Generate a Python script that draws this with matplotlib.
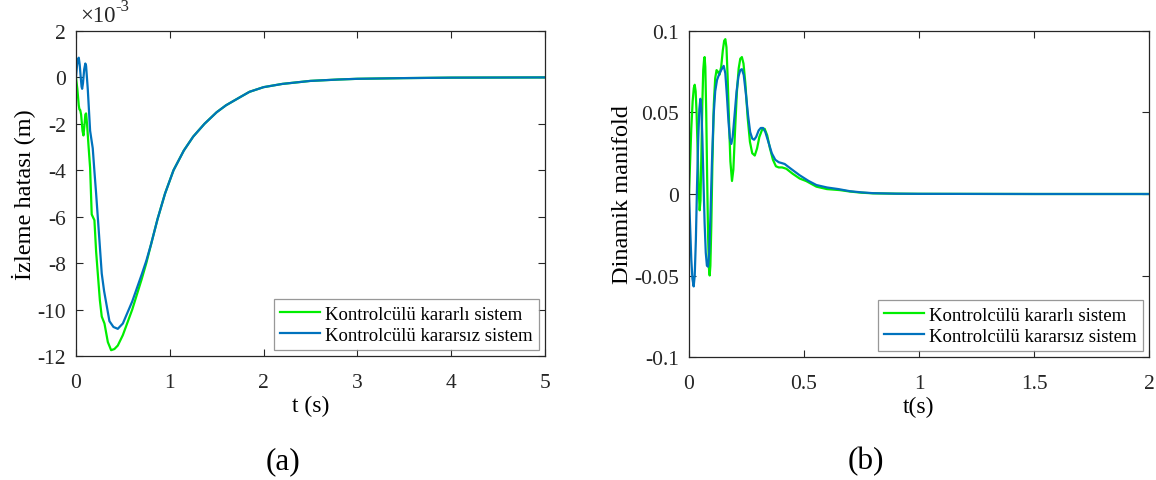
import matplotlib
matplotlib.use("Agg")
import matplotlib.pyplot as plt

plt.rcParams["font.family"] = ["Liberation Serif", "DejaVu Serif"]
plt.rcParams["axes.unicode_minus"] = False

# ---------------------------------------------------------------- data (a)
# tracking error, in units of 1e-3 m
t_a_green = [0.000, 0.015, 0.030, 0.037, 0.045, 0.055, 0.070, 0.080, 0.090, 0.100,
             0.108, 0.118, 0.135, 0.151, 0.168, 0.185, 0.197, 0.215, 0.232, 0.255,
             0.275, 0.304, 0.340, 0.375, 0.410, 0.446, 0.500, 0.600, 0.700, 0.750]
e_a_green = [0.00, -0.50, -1.20, -1.38, -1.40, -1.60, -2.30, -2.50, -2.10, -1.60,
             -1.55, -2.00, -3.00, -3.90, -5.90, -6.05, -6.15, -7.50, -8.40, -9.60,
             -10.30, -10.60, -11.40, -11.75, -11.70, -11.55, -11.10, -10.00, -8.70, -8.00]
t_a_blue = [0.000, 0.010, 0.020, 0.030, 0.040, 0.050, 0.060, 0.066, 0.075, 0.088,
            0.100, 0.108, 0.126, 0.151, 0.179, 0.197, 0.215, 0.250, 0.275, 0.300,
            0.322, 0.357, 0.400, 0.446, 0.500, 0.600, 0.700, 0.750]
e_a_blue = [0.00, 0.45, 0.78, 0.85, 0.55, 0.05, -0.40, -0.49, -0.25, 0.35,
            0.60, 0.50, -0.50, -2.30, -3.05, -4.05, -5.00, -7.00, -8.45, -9.20,
            -9.70, -10.50, -10.75, -10.83, -10.60, -9.65, -8.50, -7.90]
# shared tail once both curves coincide
t_a_tail = [0.80, 0.87, 0.95, 1.04, 1.15, 1.25, 1.37, 1.50, 1.60, 1.75, 1.85, 2.00,
            2.20, 2.50, 2.80, 3.00, 3.50, 4.00, 4.50, 5.00]
e_a_tail = [-7.20, -6.10, -5.00, -4.00, -3.15, -2.55, -2.00, -1.50, -1.20, -0.85, -0.62,
            -0.42, -0.28, -0.15, -0.09, -0.06, -0.03, -0.01, -0.005, 0.00]

# ---------------------------------------------------------------- data (b)
t_b_green = [0.000, 0.005, 0.010, 0.016, 0.021, 0.025, 0.029, 0.033, 0.038, 0.042,
             0.0465, 0.050, 0.054, 0.058, 0.062, 0.066, 0.068, 0.071, 0.075, 0.079,
             0.083, 0.087, 0.090, 0.093, 0.097, 0.102, 0.108, 0.114, 0.120, 0.126,
             0.132, 0.140, 0.147, 0.153, 0.158, 0.163, 0.168, 0.174, 0.180, 0.187,
             0.193, 0.200, 0.208, 0.216, 0.223, 0.230, 0.237, 0.245, 0.255, 0.265,
             0.275, 0.286, 0.296, 0.306, 0.318, 0.329, 0.340, 0.352, 0.365, 0.378,
             0.390, 0.405, 0.423, 0.450, 0.481, 0.510, 0.554, 0.600, 0.655, 0.700,
             0.750, 0.800, 0.900, 1.000, 1.500, 2.000]
s_b_green = [0.000, 0.020, 0.040, 0.057, 0.065, 0.067, 0.063, 0.050, 0.025, 0.004,
             -0.010, -0.004, 0.025, 0.055, 0.076, 0.083, 0.084, 0.078, 0.050, 0.010,
             -0.025, -0.046, -0.050, -0.044, -0.020, 0.020, 0.055, 0.071, 0.076, 0.075,
             0.073, 0.078, 0.088, 0.094, 0.095, 0.090, 0.072, 0.045, 0.020, 0.008,
             0.015, 0.038, 0.062, 0.077, 0.083, 0.084, 0.080, 0.068, 0.047, 0.032,
             0.025, 0.0236, 0.028, 0.035, 0.0395, 0.040, 0.036, 0.028, 0.021, 0.017,
             0.0163, 0.0163, 0.0155, 0.0125, 0.0095, 0.0079, 0.0045, 0.0030, 0.0024, 0.0015,
             0.0008, 0.0004, 0.0002, 0.0001, 0.0000, 0.0000]
t_b_blue = [0.000, 0.005, 0.010, 0.015, 0.0204, 0.025, 0.030, 0.035, 0.040, 0.045,
            0.0495, 0.054, 0.058, 0.063, 0.068, 0.073, 0.078, 0.083, 0.088, 0.093,
            0.100, 0.107, 0.114, 0.122, 0.130, 0.140, 0.151, 0.158, 0.165, 0.172,
            0.178, 0.184, 0.190, 0.198, 0.207, 0.215, 0.223, 0.230, 0.238, 0.247,
            0.257, 0.266, 0.275, 0.283, 0.292, 0.303, 0.312, 0.322, 0.332, 0.345,
            0.360, 0.375, 0.390, 0.405, 0.416, 0.440, 0.481, 0.520, 0.554, 0.600,
            0.650, 0.700, 0.750, 0.800, 0.900, 1.000, 1.500, 2.000]
s_b_blue = [0.000, -0.020, -0.040, -0.052, -0.0567, -0.050, -0.028, 0.005, 0.033, 0.052,
            0.0584, 0.052, 0.035, 0.008, -0.018, -0.036, -0.044, -0.0446, -0.036, -0.015,
            0.020, 0.048, 0.063, 0.070, 0.073, 0.076, 0.0786, 0.074, 0.060, 0.044,
            0.034, 0.0307, 0.035, 0.048, 0.063, 0.072, 0.0760, 0.0766, 0.073, 0.062,
            0.048, 0.038, 0.034, 0.0333, 0.035, 0.039, 0.0405, 0.0405, 0.038, 0.032,
            0.025, 0.021, 0.0195, 0.0189, 0.0184, 0.0158, 0.0115, 0.0080, 0.0055, 0.0040,
            0.0030, 0.0017, 0.0010, 0.0005, 0.0002, 0.0001, 0.0000, 0.0000]

labels = ["Kontrolcülü kararlı sistem", "Kontrolcülü kararsız sistem"]
GREEN = "#00ee00"
BLUE = "#0072bd"
AXC = "#262626"


def style(ax):
    for sp in ax.spines.values():
        sp.set_color(AXC)
        sp.set_linewidth(0.9)
    ax.tick_params(direction="in", top=True, right=True, length=5, width=0.8,
                   colors=AXC, labelsize=15.5, labelcolor=AXC)
    ax.tick_params(axis="x", pad=12)
    ax.tick_params(axis="y", pad=7)


def add_legend(ax):
    leg = ax.legend(loc="lower right", fontsize=13.5, frameon=True, fancybox=False,
                    handlelength=2.1, borderaxespad=0.3, labelspacing=0.2,
                    borderpad=0.35, handletextpad=0.3)
    leg.get_frame().set_edgecolor("#7f7f7f")
    leg.get_frame().set_linewidth(0.9)


fig = plt.figure(figsize=(11.56, 4.81), dpi=100)

# ----------------------------------------------------------------- (a)
ax1 = fig.add_axes([0.0657, 0.2578, 0.4057, 0.6757])
ax1.plot(t_a_green + t_a_tail, e_a_green + e_a_tail, color=GREEN, lw=1.6, label=labels[0])
ax1.plot(t_a_blue + t_a_tail, e_a_blue + e_a_tail, color=BLUE, lw=1.6, label=labels[1])
ax1.set_xlim(0, 5)
ax1.set_ylim(-12, 2)
ax1.set_xticks([0, 1, 2, 3, 4, 5])
ax1.set_yticks(range(-12, 3, 2))
ax1.set_xlabel("t (s)", fontsize=17, labelpad=2)
ax1.set_ylabel("İzleme hatası (m)", fontsize=17.5, labelpad=1)
style(ax1)
add_legend(ax1)
# MATLAB style exponent above the y axis
exp_base = ax1.text(0.008, 1.015, "×10", transform=ax1.transAxes, fontsize=16.5,
                    color=AXC, ha="left", va="bottom")
ax1.annotate("-3", xy=(1.0, 0.95), xycoords=exp_base, fontsize=12, color=AXC,
             ha="left", va="center")
fig.text(0.245, 0.04, "(a)", fontsize=22.5, ha="center", va="center")

# ----------------------------------------------------------------- (b)
ax2 = fig.add_axes([0.596, 0.2557, 0.398, 0.6778])
ax2.plot(t_b_green, s_b_green, color=GREEN, lw=1.6, label=labels[0])
ax2.plot(t_b_blue, s_b_blue, color=BLUE, lw=1.6, label=labels[1])
ax2.set_xlim(0, 2)
ax2.set_ylim(-0.1, 0.1)
ax2.set_xticks([0, 0.5, 1, 1.5, 2])
ax2.set_xticklabels(["0", "0.5", "1", "1.5", "2"])
ax2.set_yticks([-0.1, -0.05, 0, 0.05, 0.1])
ax2.set_yticklabels(["-0.1", "-0.05", "0", "0.05", "0.1"])
ax2.set_xlabel("t(s)", fontsize=17, labelpad=2)
ax2.set_ylabel("Dinamik manifold", fontsize=17.5, labelpad=1)
style(ax2)
add_legend(ax2)
fig.text(0.749, 0.04, "(b)", fontsize=22.5, ha="center", va="center")

fig.savefig("out.png", dpi=100)
